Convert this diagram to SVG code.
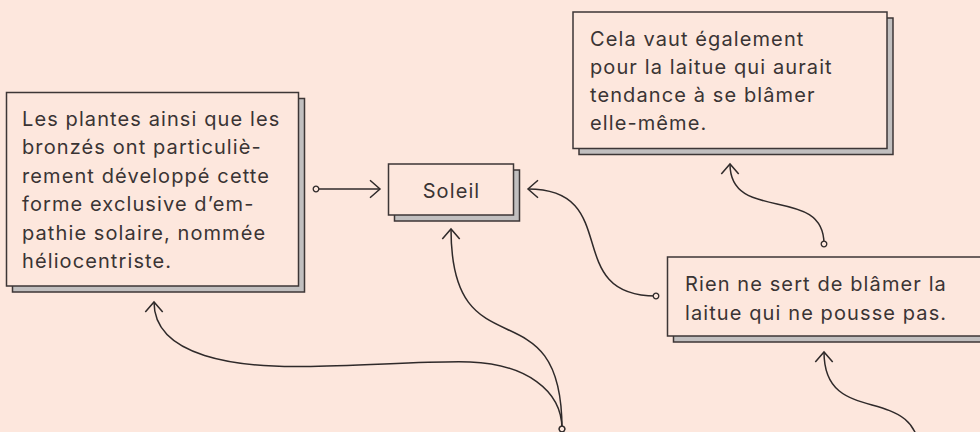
<svg xmlns="http://www.w3.org/2000/svg" width="980" height="432" viewBox="0 0 980 432">
<style>
.bg{fill:#fde7dd}
.box{fill:#fde7dd;stroke:#3d3636;stroke-width:1.5}
.shadow{fill:#c1bfbf;stroke:#3d3636;stroke-width:1.5}
.t{font-family:Inter,"Noto Sans",sans-serif;font-size:20px;letter-spacing:1.1px;fill:#3a3434}
.c{fill:none;stroke:#2f2a2a;stroke-width:1.5}
</style>
<defs>
<marker id="arr" viewBox="-12 -11 14 22" refX="0" refY="0" markerWidth="14" markerHeight="22" markerUnits="userSpaceOnUse" orient="auto">
<path d="M-10,-8.7 L0,0 L-10,8.7" fill="none" stroke="#2f2a2a" stroke-width="1.5"/>
</marker>
<marker id="dot" viewBox="-5 -5 10 10" refX="0" refY="0" markerWidth="10" markerHeight="10" markerUnits="userSpaceOnUse" orient="auto">
<circle cx="0" cy="0" r="2.8" fill="#fde7dd" stroke="#2f2a2a" stroke-width="1.3"/>
</marker>
</defs>
<rect class="bg" x="0" y="0" width="980" height="432"/>
<g id="connectors">
<path class="c" d="M316,189 L380,189" marker-start="url(#dot)" marker-end="url(#arr)"/>
<path class="c" d="M656,296 C560,296 624,189 528,189" marker-start="url(#dot)" marker-end="url(#arr)"/>
<path class="c" d="M824,244 C824,184 730,224 730,164" marker-start="url(#dot)" marker-end="url(#arr)"/>
<path class="c" d="M562,429 C562,390 525,364 470,362 C430,360.5 350,367 300,366.5 C240,367 154,358 154,302" marker-start="url(#dot)" marker-end="url(#arr)"/>
<path class="c" d="M562,429 C562,280 451,378 451,229" marker-start="url(#dot)" marker-end="url(#arr)"/>
<path class="c" d="M920,458 C920,379 824,431 824,352" marker-start="url(#dot)" marker-end="url(#arr)"/>
</g>
<g id="node-plantes">
<rect class="shadow" x="12.5" y="98.5" width="292" height="193.5"/>
<rect class="box" x="6.5" y="92.5" width="292" height="193.5"/>
<text class="t" x="22" y="125.7">Les plantes ainsi que les</text>
<text class="t" x="22" y="154.2">bronzés ont particuliè-</text>
<text class="t" x="22" y="182.7">rement développé cette</text>
<text class="t" x="22" y="211.2">forme exclusive d’em-</text>
<text class="t" x="22" y="239.7">pathie solaire, nommée</text>
<text class="t" x="22" y="268.2">héliocentriste.</text>
</g>
<g id="node-soleil">
<rect class="shadow" x="394.5" y="170" width="125" height="51"/>
<rect class="box" x="388.5" y="164" width="125" height="51"/>
<text class="t" x="451.5" y="198" text-anchor="middle">Soleil</text>
</g>
<g id="node-cela">
<rect class="shadow" x="579" y="18" width="314" height="136.5"/>
<rect class="box" x="573" y="12" width="314" height="136.5"/>
<text class="t" x="590" y="46">Cela vaut également</text>
<text class="t" x="590" y="74">pour la laitue qui aurait</text>
<text class="t" x="590" y="102">tendance à se blâmer</text>
<text class="t" x="590" y="130">elle-même.</text>
</g>
<g id="node-rien">
<rect class="shadow" x="673.5" y="263" width="330" height="79"/>
<rect class="box" x="667.5" y="257" width="330" height="79"/>
<text class="t" x="685" y="291">Rien ne sert de blâmer la</text>
<text class="t" x="685" y="319.5">laitue qui ne pousse pas.</text>
</g>
</svg>
